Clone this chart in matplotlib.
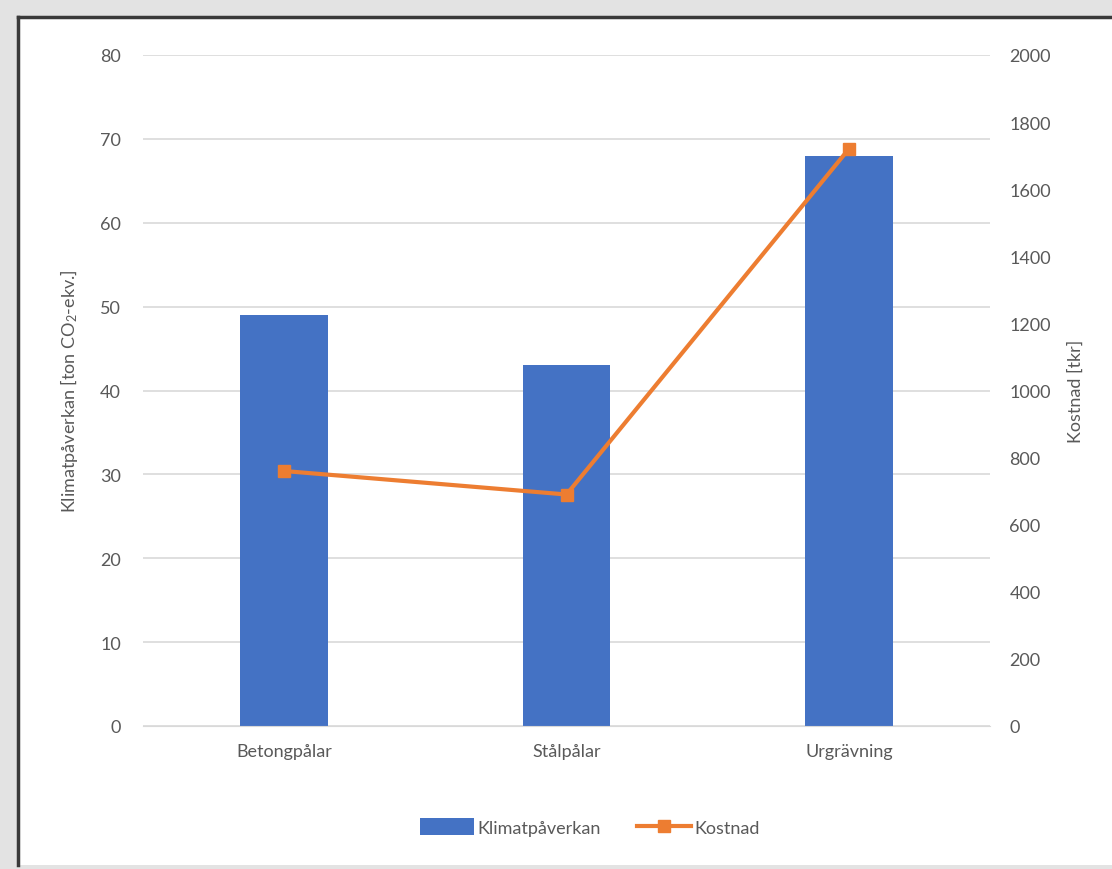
import numpy as np
import matplotlib.pyplot as plt
from matplotlib.patches import Rectangle
from matplotlib.lines import Line2D

categories = ['Betongpålar', 'Stålpålar', 'Urgrävning']
klimat = [49, 43, 68]
kostnad = [760, 690, 1720]

plt.rcParams['font.family'] = ['Lato', 'DejaVu Sans']
plt.rcParams['mathtext.default'] = 'regular'
txt = '#595959'

fig = plt.figure(figsize=(11.12, 8.70), dpi=100)
fig.patch.set_facecolor('#e3e3e3')
# white chart frame with dark top/left edge
fig.patches.append(Rectangle((18/1112, 4/870), 1.0, 1 - 22/870, transform=fig.transFigure,
                             facecolor='white', edgecolor='none', zorder=-5))
fig.lines.append(Line2D([18/1112, 18/1112], [4/870, 1 - 18/870], transform=fig.transFigure,
                        color='#3a3a3a', linewidth=2.5, zorder=-4))
fig.lines.append(Line2D([18/1112, 1.0], [1 - 18/870, 1 - 18/870], transform=fig.transFigure,
                        color='#3a3a3a', linewidth=2.5, zorder=-4))

ax1 = fig.add_axes([143/1112, 1 - 727/870, 847/1112, 671/870])
ax1.set_facecolor('none')
x = np.arange(len(categories))
bars = ax1.bar(x, klimat, width=0.31, color='#4472C4', label='Klimatpåverkan', zorder=2)
ax1.set_ylim(0, 80)
ax1.set_xlim(-0.5, 2.5)
ax1.set_yticks(range(0, 81, 10))
ax1.yaxis.grid(True, color='#d9d9d9', linewidth=1.2, zorder=0)
ax1.set_axisbelow(True)
ax1.set_xticks(x)
ax1.set_xticklabels(categories)
for s in ax1.spines.values():
    s.set_visible(False)
ax1.spines['bottom'].set_visible(True)
ax1.spines['bottom'].set_color('#d9d9d9')
ax1.tick_params(axis='both', length=0, colors=txt, labelsize=13, pad=16)
ax1.tick_params(axis='x', pad=12)
ax1.set_ylabel('Klimatpåverkan [ton CO$_2$-ekv.]', color=txt, fontsize=13, labelpad=14)

ax2 = ax1.twinx()
line, = ax2.plot(x, kostnad, color='#ED7D31', linewidth=3, marker='s', markersize=8,
                 label='Kostnad', zorder=3)
ax2.set_ylim(0, 2000)
ax2.set_yticks(range(0, 2001, 200))
for s in ax2.spines.values():
    s.set_visible(False)
ax2.tick_params(axis='y', length=0, colors=txt, labelsize=13, pad=14)
ax2.set_ylabel('Kostnad [tkr]', color=txt, fontsize=13, labelpad=12)

fig.legend([bars, line], ['Klimatpåverkan', 'Kostnad'], loc='center', ncol=2,
           bbox_to_anchor=(590/1112, 1 - 828/870), frameon=False, fontsize=13,
           labelcolor=txt, handlelength=3.0, handleheight=1.0, handletextpad=0.2,
           columnspacing=2.0)

fig.savefig('out.png', dpi=100, facecolor=fig.get_facecolor())
